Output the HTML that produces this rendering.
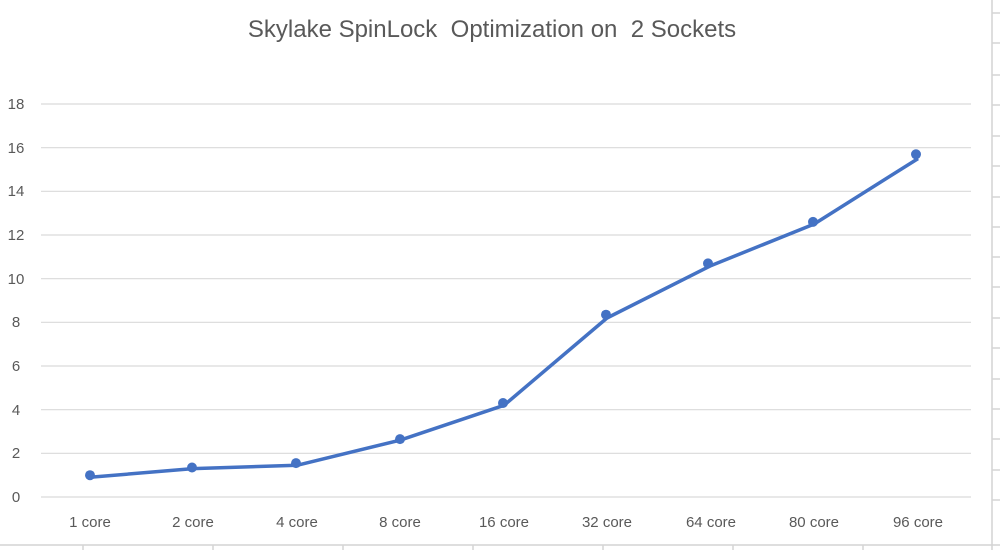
<!DOCTYPE html>
<html><head><style>
body{margin:0;background:#fff;}
svg{display:block;font-family:"Liberation Sans",sans-serif;}
</style></head><body>
<svg width="1000" height="550" viewBox="0 0 1000 550">
<rect width="1000" height="550" fill="#fff"/>
<g stroke="#d4d4d4" stroke-width="1.5">
<line x1="992" y1="0" x2="992" y2="550"/>
<line x1="0" y1="545" x2="1000" y2="545"/>
<line x1="83" y1="545" x2="83" y2="550"/><line x1="213" y1="545" x2="213" y2="550"/>
<line x1="343" y1="545" x2="343" y2="550"/><line x1="473" y1="545" x2="473" y2="550"/>
<line x1="603" y1="545" x2="603" y2="550"/><line x1="733" y1="545" x2="733" y2="550"/>
<line x1="863" y1="545" x2="863" y2="550"/>
<line x1="992" y1="13" x2="1000" y2="13"/><line x1="992" y1="43" x2="1000" y2="43"/>
<line x1="992" y1="75" x2="1000" y2="75"/><line x1="992" y1="105" x2="1000" y2="105"/>
<line x1="992" y1="136" x2="1000" y2="136"/><line x1="992" y1="166" x2="1000" y2="166"/>
<line x1="992" y1="197" x2="1000" y2="197"/><line x1="992" y1="227" x2="1000" y2="227"/>
<line x1="992" y1="257" x2="1000" y2="257"/><line x1="992" y1="287" x2="1000" y2="287"/>
<line x1="992" y1="318" x2="1000" y2="318"/><line x1="992" y1="348" x2="1000" y2="348"/>
<line x1="992" y1="379" x2="1000" y2="379"/><line x1="992" y1="409" x2="1000" y2="409"/>
<line x1="992" y1="439" x2="1000" y2="439"/><line x1="992" y1="470" x2="1000" y2="470"/>
<line x1="992" y1="500" x2="1000" y2="500"/>
</g>
<text x="492" y="37" text-anchor="middle" font-size="24" fill="#595959" style="white-space:pre" xml:space="preserve">Skylake SpinLock  Optimization on  2 Sockets</text>
<g stroke="#d9d9d9" stroke-width="1.2">
<line x1="41" x2="971" y1="497" y2="497"/><line x1="41" x2="971" y1="453.3" y2="453.3"/>
<line x1="41" x2="971" y1="409.7" y2="409.7"/><line x1="41" x2="971" y1="366" y2="366"/>
<line x1="41" x2="971" y1="322.3" y2="322.3"/><line x1="41" x2="971" y1="278.7" y2="278.7"/>
<line x1="41" x2="971" y1="235" y2="235"/><line x1="41" x2="971" y1="191.3" y2="191.3"/>
<line x1="41" x2="971" y1="147.7" y2="147.7"/><line x1="41" x2="971" y1="104" y2="104"/>
</g>
<g font-size="15" fill="#595959" text-anchor="middle">
<text x="16" y="502">0</text><text x="16" y="458">2</text><text x="16" y="415">4</text>
<text x="16" y="371">6</text><text x="16" y="327">8</text><text x="16" y="284">10</text>
<text x="16" y="240">12</text><text x="16" y="196">14</text><text x="16" y="153">16</text>
<text x="16" y="109">18</text>
<text x="90" y="527">1 core</text><text x="193" y="527">2 core</text><text x="297" y="527">4 core</text>
<text x="400" y="527">8 core</text><text x="504" y="527">16 core</text><text x="607" y="527">32 core</text>
<text x="711" y="527">64 core</text><text x="814" y="527">80 core</text><text x="918" y="527">96 core</text>
</g>
<polyline fill="none" stroke="#4472c4" stroke-width="3.5" stroke-linejoin="round"
points="90,477.3 193,468.6 297,465.3 400,440.2 504,405.3 607,318 711,265.6 814,224.1 918,158.6"/>
<g fill="#4472c4">
<circle cx="90" cy="475.2" r="5"/><circle cx="192" cy="467.5" r="5"/><circle cx="296" cy="463.1" r="5"/>
<circle cx="400" cy="439.1" r="5"/><circle cx="503" cy="403" r="5"/><circle cx="606" cy="314.7" r="5"/>
<circle cx="708" cy="263.4" r="5"/><circle cx="813" cy="221.9" r="5"/><circle cx="916" cy="154.3" r="5"/>
</g>
</svg>
</body></html>
